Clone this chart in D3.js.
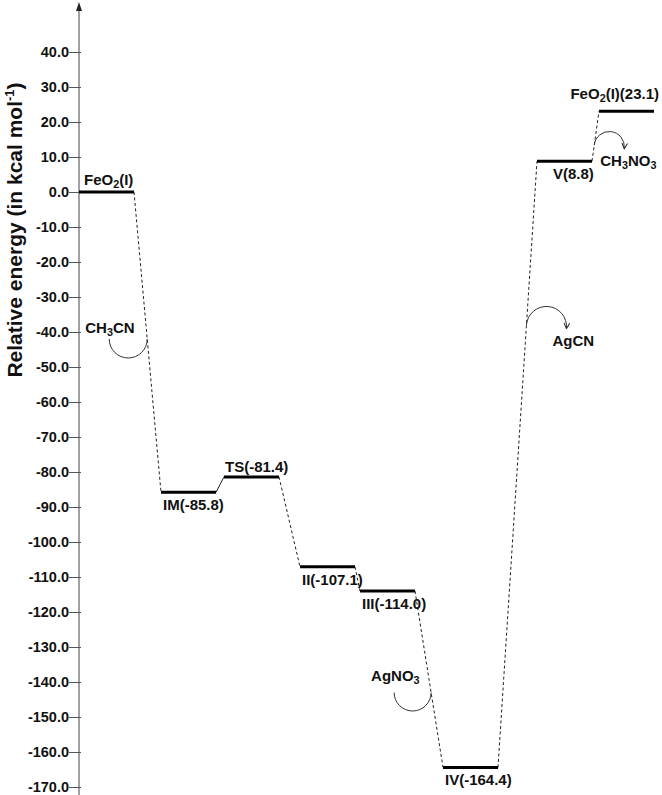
<!DOCTYPE html>
<html>
<head>
<meta charset="utf-8">
<script src="https://cdn.jsdelivr.net/npm/d3@7"></script>
<style>
  html, body { margin: 0; padding: 0; background: #fff; }
  text { font-family: "Liberation Sans", Arial, sans-serif; font-weight: bold; fill: #111; }
</style>
</head>
<body>
<svg id="chart" width="662" height="795"></svg>
<script>
// ---- data ----
const states   = ["FeO2(I)", "IM", "TS", "II", "III", "IV", "V", "FeO2(I)"];
const energies = [0.0, -85.8, -81.4, -107.1, -114.0, -164.4, 8.8, 23.1];
// reaction-coordinate start of each level (arbitrary units)
const coordStart = [0, 8.2, 14.5, 22.1, 28.1, 36.4, 45.8, 52.0];
const levelWidth = 5.5;
const labelSide  = ["above", "below", "above", "below", "below", "below", "below", "above"];
const yTicks = [40, 30, 20, 10, 0, -10, -20, -30, -40, -50, -60, -70, -80, -90, -100,
                -110, -120, -130, -140, -150, -160, -170];
// species released/added: connector index, energy where arc meets the connector
const species     = ["CH3CN", "AgNO3", "AgCN", "CH3NO3"];
const speciesConn = [0, 4, 5, 6];
const speciesE    = [-42, -143, -38, 13.4];

// ---- scales ----
const svg = d3.select("#chart");
const axisX = 79;
const x = d3.scaleLinear().domain([0, 58]).range([axisX, axisX + 580]);
const y = d3.scaleLinear().domain([40, -170]).range([52, 787]);
const FS = 15;
const loc = d3.formatLocale({ decimal: ".", thousands: ",", grouping: [3], currency: ["$", ""], minus: "-" });

// ---- axis ----
svg.append("line").attr("x1", axisX).attr("x2", axisX).attr("y1", 8).attr("y2", 795)
  .attr("stroke", "#444").attr("stroke-width", 1);
svg.append("path").attr("d", `M${axisX},2 L${axisX - 3},11 L${axisX + 3},11 Z`).attr("fill", "#222");

const axis = d3.axisLeft(y).tickValues(yTicks).tickFormat(loc.format(".1f"))
  .tickSize(12).tickPadding(0);
const gAxis = svg.append("g").attr("transform", `translate(${axisX + 2},0)`).call(axis);
gAxis.select(".domain").remove();
gAxis.selectAll(".tick line").attr("stroke", "#555");
gAxis.selectAll(".tick text").attr("font-size", 14.5).attr("font-family", "Liberation Sans, Arial, sans-serif")
  .attr("font-weight", "bold").attr("fill", "#111");

// axis title
const title = svg.append("text")
  .attr("transform", "translate(22,230) rotate(-90)")
  .attr("text-anchor", "middle").attr("font-size", 21);
title.append("tspan").text("Relative energy (in kcal mol");
title.append("tspan").attr("font-size", 13).attr("dy", -8).text("-1");
title.append("tspan").attr("dy", 8).text(")");

// ---- levels ----
const lv = states.map((s, i) => ({
  name: s, e: energies[i], x0: x(coordStart[i]), x1: x(coordStart[i] + levelWidth), y: y(energies[i]), side: labelSide[i]
}));

// connectors
const conns = [];
for (let i = 0; i < lv.length - 1; i++) {
  conns.push({ x0: lv[i].x1, y0: lv[i].y, x1: lv[i + 1].x0, y1: lv[i + 1].y, solid: i === 1 });
}
svg.selectAll("line.conn").data(conns).enter().append("line").attr("class", "conn")
  .attr("x1", d => d.x0).attr("y1", d => d.y0).attr("x2", d => d.x1).attr("y2", d => d.y1)
  .attr("stroke", "#222").attr("stroke-width", 1)
  .attr("stroke-dasharray", d => d.solid ? null : "3,2.5");

svg.selectAll("line.lvl").data(lv).enter().append("line").attr("class", "lvl")
  .attr("x1", d => d.x0).attr("x2", d => d.x1).attr("y1", d => d.y).attr("y2", d => d.y)
  .attr("stroke", "#000").attr("stroke-width", 3);

// chemical text with subscript digits following letters (e.g. O2, H3)
function addChem(t, str, size) {
  const parts = str.split(/(?<=[A-Za-z])(\d)/).map((p, k) => ({ p, sub: k % 2 === 1 })).filter(o => o.p !== "");
  let shift = 0;
  parts.forEach(o => {
    const ts = t.append("tspan").text(o.p);
    if (o.sub) { ts.attr("font-size", size * 0.72).attr("dy", 3 - shift); shift = 3; }
    else if (shift) { ts.attr("dy", -shift); shift = 0; }
  });
}
lv.forEach((d, i) => {
  let str, tx, ty, anchor = "start";
  if (i === 0) { str = "FeO2(I)"; tx = d.x0 + 5; ty = d.y - 7; }
  else if (i === lv.length - 1) { str = `FeO2(I)(${d.e.toFixed(1)})`; tx = d.x1 + 5; ty = d.y - 12; anchor = "end"; }
  else {
    str = `${d.name}(${d.e.toFixed(1)})`;
    if (d.side === "above") { tx = d.x0 + 1; ty = d.y - 5; }
    else { tx = d.x0 + (d.name === "V" ? 16 : 2); ty = d.y + 18; }
  }
  const t = svg.append("text").attr("x", tx).attr("y", ty).attr("font-size", FS).attr("text-anchor", anchor);
  addChem(t, str, FS);
});

// ---- species arcs ----
svg.append("defs").append("marker").attr("id", "ah").attr("viewBox", "0 0 10 10")
  .attr("refX", 8).attr("refY", 5).attr("markerWidth", 7).attr("markerHeight", 7).attr("orient", "auto")
  .append("path").attr("d", "M1,1 L9,5 L1,9").attr("fill", "none").attr("stroke", "#222").attr("stroke-width", 1.4);

species.forEach((s, k) => {
  const c = conns[speciesConn[k]];
  const py = y(speciesE[k]);
  const px = c.x0 + (c.x1 - c.x0) * (py - c.y0) / (c.y1 - c.y0);
  let path, lx, ly;
  if (k === 0 || k === 1) {
    // arc opens upward, to the left of connector
    const r = k === 0 ? 19 : 18.5;
    path = `M${px},${py} A${r},${r} 0 0 1 ${px - 2 * r},${py}`;
    lx = k === 0 ? px - 62 : px - 60; ly = py - (k === 0 ? 6 : 12);
    svg.append("path").attr("d", path).attr("fill", "none").attr("stroke", "#333").attr("stroke-width", 1);
  } else {
    const r = k === 2 ? 20 : 15;
    path = `M${px},${py} A${r},${r} 0 0 1 ${px + 2 * r},${py + 3}`;
    lx = k === 2 ? px + 26 : px + 6; ly = py + 21;
    svg.append("path").attr("d", path).attr("fill", "none").attr("stroke", "#333").attr("stroke-width", 1)
      .attr("marker-end", "url(#ah)");
  }
  const t = svg.append("text").attr("x", lx).attr("y", ly).attr("font-size", FS);
  addChem(t, s, FS);
});
</script>
</body>
</html>
